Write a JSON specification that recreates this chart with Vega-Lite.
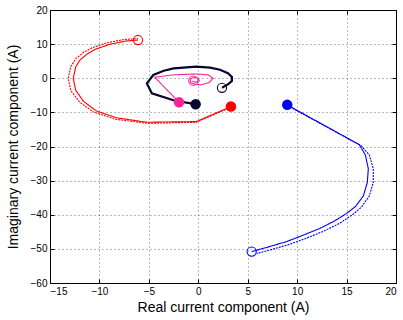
{
  "$schema": "https://vega.github.io/schema/vega-lite/v6.json",
  "width": 346,
  "height": 273,
  "autosize": {"type": "none"},
  "padding": {"left": 50, "top": 10, "right": 7, "bottom": 37},
  "background": "white",
  "config": {
    "view": {"stroke": "black", "strokeWidth": 1},
    "font": "Liberation Sans",
    "axis": {
      "domain": false,
      "tickColor": "black",
      "tickSize": -4,
      "labelPadding": 7,
      "labelFont": "Liberation Sans",
      "labelFontSize": 10,
      "labelColor": "black",
      "titleFont": "Liberation Sans",
      "titleFontSize": 14,
      "titleFontWeight": "normal",
      "titleColor": "black",
      "grid": true,
      "gridColor": "#000000",
      "gridOpacity": 0.55,
      "gridDash": [1, 3],
      "gridWidth": 1
    }
  },
  "datasets": {
    "lines": [
      {"g": "red-s", "series": "red", "kind": "solid", "i": 0, "x": 3.3, "y": -8.3},
      {"g": "red-s", "series": "red", "kind": "solid", "i": 1, "x": -0.2, "y": -12.7},
      {"g": "red-s", "series": "red", "kind": "solid", "i": 2, "x": -5.2, "y": -12.9},
      {"g": "red-s", "series": "red", "kind": "solid", "i": 3, "x": -8.25, "y": -11.6},
      {"g": "red-s", "series": "red", "kind": "solid", "i": 4, "x": -10.3, "y": -9.6},
      {"g": "red-s", "series": "red", "kind": "solid", "i": 5, "x": -11.6, "y": -6.8},
      {"g": "red-s", "series": "red", "kind": "solid", "i": 6, "x": -12.4, "y": -3.5},
      {"g": "red-s", "series": "red", "kind": "solid", "i": 7, "x": -12.65, "y": 0},
      {"g": "red-s", "series": "red", "kind": "solid", "i": 8, "x": -12.4, "y": 3.3},
      {"g": "red-s", "series": "red", "kind": "solid", "i": 9, "x": -11.97, "y": 5.35},
      {"g": "red-s", "series": "red", "kind": "solid", "i": 10, "x": -11.2, "y": 7.2},
      {"g": "red-s", "series": "red", "kind": "solid", "i": 11, "x": -10.4, "y": 8.5},
      {"g": "red-s", "series": "red", "kind": "solid", "i": 12, "x": -8.9, "y": 10.0},
      {"g": "red-s", "series": "red", "kind": "solid", "i": 13, "x": -7.3, "y": 10.9},
      {"g": "red-s", "series": "red", "kind": "solid", "i": 14, "x": -6.1, "y": 11.2},
      {"g": "red-d", "series": "red", "kind": "dash", "i": 0, "x": 3.3, "y": -8.5},
      {"g": "red-d", "series": "red", "kind": "dash", "i": 1, "x": -0.2, "y": -12.9},
      {"g": "red-d", "series": "red", "kind": "dash", "i": 2, "x": -5.2, "y": -13.2},
      {"g": "red-d", "series": "red", "kind": "dash", "i": 3, "x": -8.4, "y": -12.0},
      {"g": "red-d", "series": "red", "kind": "dash", "i": 4, "x": -10.6, "y": -9.9},
      {"g": "red-d", "series": "red", "kind": "dash", "i": 5, "x": -12.0, "y": -7.0},
      {"g": "red-d", "series": "red", "kind": "dash", "i": 6, "x": -12.9, "y": -3.6},
      {"g": "red-d", "series": "red", "kind": "dash", "i": 7, "x": -13.15, "y": 0},
      {"g": "red-d", "series": "red", "kind": "dash", "i": 8, "x": -12.9, "y": 3.4},
      {"g": "red-d", "series": "red", "kind": "dash", "i": 9, "x": -12.4, "y": 5.7},
      {"g": "red-d", "series": "red", "kind": "dash", "i": 10, "x": -11.6, "y": 7.6},
      {"g": "red-d", "series": "red", "kind": "dash", "i": 11, "x": -10.7, "y": 9.0},
      {"g": "red-d", "series": "red", "kind": "dash", "i": 12, "x": -9.1, "y": 10.5},
      {"g": "red-d", "series": "red", "kind": "dash", "i": 13, "x": -7.4, "y": 11.4},
      {"g": "red-d", "series": "red", "kind": "dash", "i": 14, "x": -6.1, "y": 11.6},
      {"g": "blue-s", "series": "blue", "kind": "solid", "i": 0, "x": 9.0, "y": -7.8},
      {"g": "blue-s", "series": "blue", "kind": "solid", "i": 1, "x": 16.3, "y": -19.5},
      {"g": "blue-s", "series": "blue", "kind": "solid", "i": 2, "x": 16.9, "y": -22.5},
      {"g": "blue-s", "series": "blue", "kind": "solid", "i": 3, "x": 17.2, "y": -26.5},
      {"g": "blue-s", "series": "blue", "kind": "solid", "i": 4, "x": 17.1, "y": -30.5},
      {"g": "blue-s", "series": "blue", "kind": "solid", "i": 5, "x": 16.7, "y": -34.5},
      {"g": "blue-s", "series": "blue", "kind": "solid", "i": 6, "x": 15.9, "y": -37.6},
      {"g": "blue-s", "series": "blue", "kind": "solid", "i": 7, "x": 15.0, "y": -39.6},
      {"g": "blue-s", "series": "blue", "kind": "solid", "i": 8, "x": 13.8, "y": -41.8},
      {"g": "blue-s", "series": "blue", "kind": "solid", "i": 9, "x": 12.3, "y": -44.0},
      {"g": "blue-s", "series": "blue", "kind": "solid", "i": 10, "x": 10.6, "y": -46.0},
      {"g": "blue-s", "series": "blue", "kind": "solid", "i": 11, "x": 8.9, "y": -47.9},
      {"g": "blue-s", "series": "blue", "kind": "solid", "i": 12, "x": 7.0, "y": -49.5},
      {"g": "blue-s", "series": "blue", "kind": "solid", "i": 13, "x": 5.4, "y": -50.8},
      {"g": "blue-d", "series": "blue", "kind": "dash", "i": 0, "x": 9.0, "y": -8.0},
      {"g": "blue-d", "series": "blue", "kind": "dash", "i": 1, "x": 16.5, "y": -19.8},
      {"g": "blue-d", "series": "blue", "kind": "dash", "i": 2, "x": 17.3, "y": -22.5},
      {"g": "blue-d", "series": "blue", "kind": "dash", "i": 3, "x": 17.7, "y": -26.5},
      {"g": "blue-d", "series": "blue", "kind": "dash", "i": 4, "x": 17.7, "y": -30.5},
      {"g": "blue-d", "series": "blue", "kind": "dash", "i": 5, "x": 17.3, "y": -34.5},
      {"g": "blue-d", "series": "blue", "kind": "dash", "i": 6, "x": 16.5, "y": -37.8},
      {"g": "blue-d", "series": "blue", "kind": "dash", "i": 7, "x": 15.6, "y": -40.0},
      {"g": "blue-d", "series": "blue", "kind": "dash", "i": 8, "x": 14.3, "y": -42.5},
      {"g": "blue-d", "series": "blue", "kind": "dash", "i": 9, "x": 12.7, "y": -44.8},
      {"g": "blue-d", "series": "blue", "kind": "dash", "i": 10, "x": 11.0, "y": -46.8},
      {"g": "blue-d", "series": "blue", "kind": "dash", "i": 11, "x": 9.3, "y": -48.6},
      {"g": "blue-d", "series": "blue", "kind": "dash", "i": 12, "x": 7.3, "y": -50.3},
      {"g": "blue-d", "series": "blue", "kind": "dash", "i": 13, "x": 5.9, "y": -51.4},
      {"g": "navy-s", "series": "navy", "kind": "solid", "i": 0, "x": -0.27, "y": -7.6},
      {"g": "navy-s", "series": "navy", "kind": "solid", "i": 1, "x": -2.36, "y": -6.6},
      {"g": "navy-s", "series": "navy", "kind": "solid", "i": 2, "x": -4.7, "y": -4.4},
      {"g": "navy-s", "series": "navy", "kind": "solid", "i": 3, "x": -5.2, "y": -1.5},
      {"g": "navy-s", "series": "navy", "kind": "solid", "i": 4, "x": -4.55, "y": 0.95},
      {"g": "navy-s", "series": "navy", "kind": "solid", "i": 5, "x": -3.5, "y": 2.2},
      {"g": "navy-s", "series": "navy", "kind": "solid", "i": 6, "x": -2.5, "y": 2.9},
      {"g": "navy-s", "series": "navy", "kind": "solid", "i": 7, "x": -0.2, "y": 3.4},
      {"g": "navy-s", "series": "navy", "kind": "solid", "i": 8, "x": 1.2, "y": 3.1},
      {"g": "navy-s", "series": "navy", "kind": "solid", "i": 9, "x": 2.2, "y": 2.5},
      {"g": "navy-s", "series": "navy", "kind": "solid", "i": 10, "x": 3.0, "y": 1.5},
      {"g": "navy-s", "series": "navy", "kind": "solid", "i": 11, "x": 3.4, "y": 0.4},
      {"g": "navy-s", "series": "navy", "kind": "solid", "i": 12, "x": 3.4, "y": -0.8},
      {"g": "navy-s", "series": "navy", "kind": "solid", "i": 13, "x": 3.0, "y": -1.8},
      {"g": "navy-s", "series": "navy", "kind": "solid", "i": 14, "x": 2.4, "y": -2.8},
      {"g": "mag-s", "series": "magenta", "kind": "solid", "i": 0, "x": -1.95, "y": -7.05},
      {"g": "mag-s", "series": "magenta", "kind": "solid", "i": 1, "x": -4.4, "y": 0.3},
      {"g": "mag-s", "series": "magenta", "kind": "solid", "i": 2, "x": -2.5, "y": 1.0},
      {"g": "mag-s", "series": "magenta", "kind": "solid", "i": 3, "x": -0.2, "y": 1.25},
      {"g": "mag-s", "series": "magenta", "kind": "solid", "i": 4, "x": 1.0, "y": 1.0},
      {"g": "mag-s", "series": "magenta", "kind": "solid", "i": 5, "x": 1.5, "y": 0.0},
      {"g": "mag-s", "series": "magenta", "kind": "solid", "i": 6, "x": 1.1, "y": -1.3},
      {"g": "mag-s", "series": "magenta", "kind": "solid", "i": 7, "x": 0.3, "y": -1.9},
      {"g": "mag-s", "series": "magenta", "kind": "solid", "i": 8, "x": -0.3, "y": -1.8},
      {"g": "mag-s", "series": "magenta", "kind": "solid", "i": 9, "x": -0.8, "y": -1.2},
      {"g": "mag-s", "series": "magenta", "kind": "solid", "i": 10, "x": -0.8, "y": -0.2},
      {"g": "mag-s", "series": "magenta", "kind": "solid", "i": 11, "x": -0.4, "y": 0.3},
      {"g": "mag-s", "series": "magenta", "kind": "solid", "i": 12, "x": 0.0, "y": 0.0},
      {"g": "mag-s", "series": "magenta", "kind": "solid", "i": 13, "x": 0.1, "y": -0.8},
      {"g": "mag-s", "series": "magenta", "kind": "solid", "i": 14, "x": -0.3, "y": -1.2},
      {"g": "mag-s", "series": "magenta", "kind": "solid", "i": 15, "x": -0.6, "y": -0.8}
    ],
    "starts": [
      {"series": "red", "x": 3.3, "y": -8.3},
      {"series": "blue", "x": 9.0, "y": -7.8},
      {"series": "navy", "x": -0.27, "y": -7.6},
      {"series": "magenta", "x": -1.95, "y": -7.05}
    ],
    "ends": [
      {"series": "red", "x": -6.1, "y": 11.2},
      {"series": "blue", "x": 5.4, "y": -50.8},
      {"series": "navy", "x": 2.4, "y": -2.8},
      {"series": "magenta", "x": -0.5, "y": -0.7}
    ]
  },
  "resolve": {"axis": {"x": "independent", "y": "independent"}},
  "layer": [
    {
      "data": {"name": "lines"},
      "transform": [{"filter": "datum.series !== 'navy'"}],
      "mark": {"type": "line", "interpolate": "linear", "strokeWidth": 1.1},
      "encoding": {
        "x": {"field": "x", "type": "quantitative", "scale": {"domain": [-15, 20], "nice": false, "zero": false},
              "axis": {"orient": "bottom", "title": "Real current component (A)", "values": [-15, -10, -5, 0, 5, 10, 15, 20], "titlePadding": 4}},
        "y": {"field": "y", "type": "quantitative", "scale": {"domain": [-60, 20], "nice": false, "zero": false},
              "axis": {"orient": "left", "title": "Imaginary current component (A)", "values": [-60, -50, -40, -30, -20, -10, 0, 10, 20], "titlePadding": 10}},
        "order": {"field": "i", "type": "quantitative"},
        "detail": {"field": "g"},
        "color": {"field": "series", "type": "nominal", "legend": null,
                  "scale": {"domain": ["red", "blue", "navy", "magenta"], "range": ["#ff0000", "#0000ff", "#06062e", "#ff2299"]}},
        "strokeDash": {"field": "kind", "type": "nominal", "legend": null,
                       "scale": {"domain": ["solid", "dash"], "range": [[1, 0], [2, 1]]}}
      }
    },
    {
      "data": {"name": "lines"},
      "transform": [{"filter": "datum.series === 'navy'"}],
      "mark": {"type": "line", "interpolate": "linear", "strokeWidth": 2.2},
      "encoding": {
        "x": {"field": "x", "type": "quantitative", "axis": null},
        "y": {"field": "y", "type": "quantitative", "axis": null},
        "order": {"field": "i", "type": "quantitative"},
        "color": {"field": "series", "type": "nominal", "legend": null}
      }
    },
    {
      "data": {"name": "starts"},
      "mark": {"type": "point", "shape": "circle", "filled": true, "opacity": 1, "size": 110},
      "encoding": {
        "x": {"field": "x", "type": "quantitative", "axis": null},
        "y": {"field": "y", "type": "quantitative", "axis": null},
        "color": {"field": "series", "type": "nominal", "legend": null}
      }
    },
    {
      "data": {"name": "ends"},
      "mark": {"type": "point", "shape": "circle", "filled": false, "opacity": 1, "size": 85, "strokeWidth": 1.1},
      "encoding": {
        "x": {"field": "x", "type": "quantitative", "axis": null},
        "y": {"field": "y", "type": "quantitative", "axis": null},
        "color": {"field": "series", "type": "nominal", "legend": null}
      }
    },
    {
      "data": {"name": "ends"},
      "mark": {"type": "point", "opacity": 0},
      "encoding": {
        "x": {"field": "x", "type": "quantitative",
              "axis": {"orient": "top", "labels": false, "grid": false, "title": null, "values": [-15, -10, -5, 0, 5, 10, 15, 20]}},
        "y": {"field": "y", "type": "quantitative",
              "axis": {"orient": "right", "labels": false, "grid": false, "title": null, "values": [-60, -50, -40, -30, -20, -10, 0, 10, 20]}}
      }
    }
  ]
}
